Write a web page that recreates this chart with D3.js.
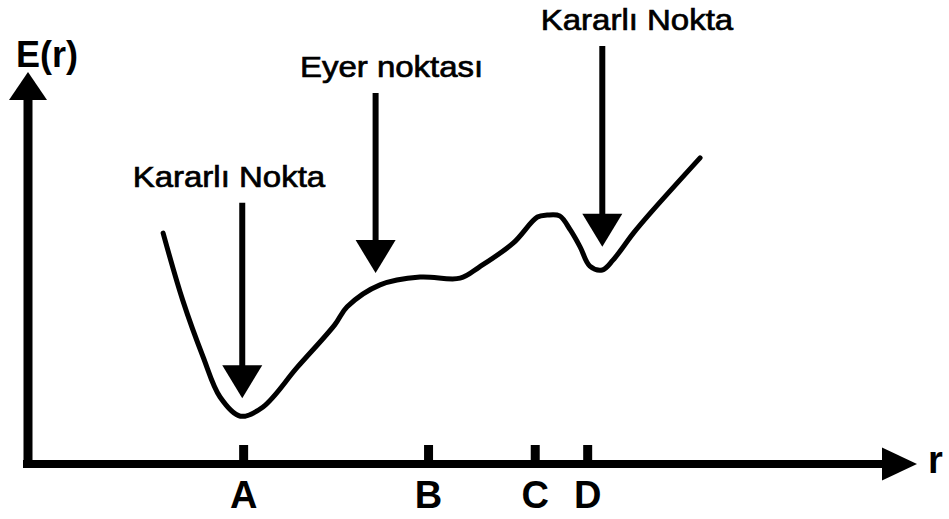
<!DOCTYPE html>
<html>
<head>
<meta charset="utf-8">
<script src="https://cdn.jsdelivr.net/npm/d3@7/dist/d3.min.js"></script>
<style>
  html, body { margin: 0; padding: 0; background: #fff; }
  svg { display: block; }
  text { font-family: "Liberation Sans", Arial, Helvetica, sans-serif; fill: #000; }
</style>
</head>
<body>
<svg id="chart" width="949" height="519"></svg>
<script>
// Potential energy curve E(r) sampled along the reaction coordinate r
const rValues      = [1.52, 1.74, 1.97, 2.16, 2.39, 2.64, 3.03, 3.45, 3.59, 3.96, 4.41, 4.86, 5.08, 5.46, 5.73, 5.84, 5.98, 6.10, 6.21, 6.32, 6.46, 6.58, 6.81, 7.00, 7.56];
const energyValues = [5.89, 4.18, 2.73, 1.71, 1.22, 1.45, 2.47, 3.55, 4.01, 4.57, 4.77, 4.74, 5.03, 5.64, 6.30, 6.35, 6.33, 5.97, 5.54, 5.05, 4.95, 5.20, 5.89, 6.40, 7.81];

// Marked positions on the r axis
const tickNames     = ["A", "B", "C", "D"];
const tickPositions = [2.42, 4.50, 5.70, 6.29];

// Annotated stationary points: arrow tip (r, E) and label anchor (r, E)
const annLabels  = ["Kararlı Nokta", "Eyer noktası", "Kararlı Nokta"];
const annPointR  = [2.41, 3.91, 6.46];
const annPointE  = [1.68, 4.87, 5.54];
const annLabelR  = [2.26, 4.09, 6.85];
const annLabelE  = [7.07, 9.87, 11.07];

const axisTitleY = "E(r)";
const axisTitleX = "r";

const svg = d3.select("#chart");

const originX = 28, originY = 464;
const x = d3.scaleLinear().domain([0, 10]).range([originX, 917]);
const y = d3.scaleLinear().domain([0, 10]).range([originY, 72]);

// Energy curve
const line = d3.line()
  .x((d, i) => x(rValues[i]))
  .y((d, i) => y(energyValues[i]))
  .curve(d3.curveCatmullRom.alpha(0.5));

svg.append("path")
  .datum(rValues)
  .attr("d", line)
  .attr("fill", "none")
  .attr("stroke", "#000")
  .attr("stroke-width", 5)
  .attr("stroke-linejoin", "round")
  .attr("stroke-linecap", "round");

// Axes with arrowheads
const axisW = 8;
const yTip = y(10), yHeadBase = yTip + 28, yHalf = 19;
svg.append("line")
  .attr("x1", originX).attr("x2", originX)
  .attr("y1", originY + axisW / 2).attr("y2", yHeadBase)
  .attr("stroke", "#000").attr("stroke-width", axisW + 1);
svg.append("path")
  .attr("d", `M${originX},${yTip} L${originX + yHalf},${yHeadBase} L${originX - yHalf},${yHeadBase} Z`)
  .attr("fill", "#000");

const xTip = x(10), xHeadBase = xTip - 35, xHalf = 16.5;
svg.append("line")
  .attr("x1", originX - 5).attr("x2", xHeadBase)
  .attr("y1", originY).attr("y2", originY)
  .attr("stroke", "#000").attr("stroke-width", axisW);
svg.append("path")
  .attr("d", `M${xTip},${originY} L${xHeadBase},${originY - xHalf} L${xHeadBase},${originY + xHalf} Z`)
  .attr("fill", "#000");

// Tick marks and letters on the r axis
const axis = d3.axisBottom(x)
  .tickValues(tickPositions)
  .tickFormat((d, i) => tickNames[i])
  .tickSize(-19)
  .tickPadding(17);

const gAxis = svg.append("g")
  .attr("transform", `translate(0,${originY})`)
  .call(axis);
gAxis.select(".domain").remove();
gAxis.selectAll(".tick line")
  .attr("stroke", "#000")
  .attr("stroke-width", 9);
gAxis.selectAll(".tick text")
  .attr("fill", "#000")
  .style("font-family", '"Liberation Sans", Arial, sans-serif')
  .style("font-size", "38px")
  .style("font-weight", "bold");

// Axis titles
svg.append("text")
  .attr("x", 16).attr("y", 67)
  .style("font-size", "36px").style("font-weight", "bold")
  .text(axisTitleY);
svg.append("text")
  .attr("x", 928).attr("y", 473)
  .style("font-size", "38px").style("font-weight", "bold")
  .text(axisTitleX);

// Annotation arrows pointing at the stationary points
annLabels.forEach((label, i) => {
  const ax = x(annPointR[i]);
  const tipY = y(annPointE[i]);
  const baseY = y(annLabelE[i]);
  const headLen = 33, headHalf = 20;

  svg.append("line")
    .attr("x1", ax).attr("x2", ax)
    .attr("y1", baseY + 16).attr("y2", tipY - headLen + 2)
    .attr("stroke", "#000").attr("stroke-width", 6);
  svg.append("path")
    .attr("d", `M${ax},${tipY} L${ax - headHalf},${tipY - headLen} L${ax + headHalf},${tipY - headLen} Z`)
    .attr("fill", "#000");

  svg.append("text")
    .attr("transform", `translate(${x(annLabelR[i])},${baseY}) scale(1.1,1)`)
    .attr("text-anchor", "middle")
    .style("font-size", "30px")
    .attr("stroke", "#000")
    .attr("stroke-width", 0.7)
    .text(label);
});
</script>
</body>
</html>
